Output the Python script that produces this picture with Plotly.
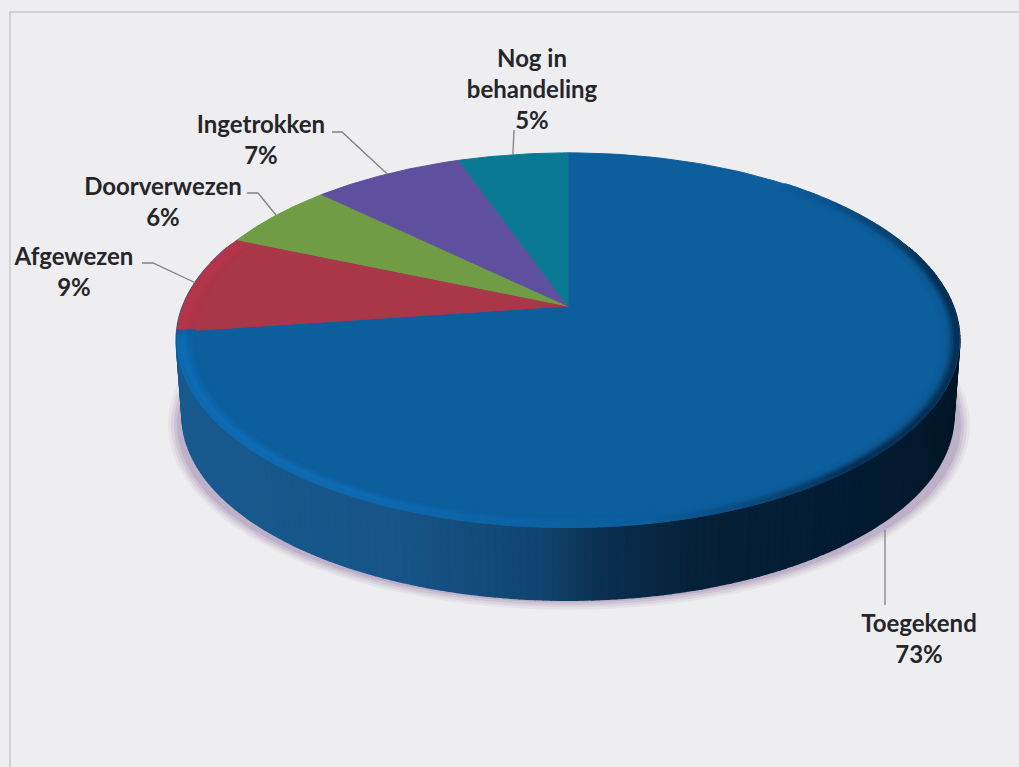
import numpy as np
import plotly.graph_objects as go

# ---- data ----
categories = ["Toegekend", "Afgewezen", "Doorverwezen", "Ingetrokken", "Nog in behandeling"]
shares = [72.8, 8.6, 5.8, 7.4, 5.4]
slice_colors = ["#0d5e9c", "#a93649", "#6f9c45", "#5f509f", "#0a7a94"]
label_lines = [["Toegekend"], ["Afgewezen"], ["Doorverwezen"], ["Ingetrokken"], ["Nog in", "behandeling"]]

# ---- label layout (centre x, y of first line) and leader elbows ----
label_pos = [(919, 626), (74, 259), (163, 189), (261, 127), (532, 61)]
leader_start = [(885, 605), (142, 263), (247, 193), (332, 132), (514, 130)]
leader_elbow = [None, (153, 263), (258, 193), (342, 132), None]
LINE_H = 31

# ---- projection of the disc: apex, perspective, thickness ----
CX, CY = 568.0, 306.0
AX, AY, K = 385.0, 181.0, 0.182
DEPTH, SHRINK = 76.0, 0.985


def rim(theta, s=1.0):
    """Clockwise angle from 12 o'clock (radians) to canvas coordinates on the top face."""
    u, v = np.sin(theta), np.cos(theta)
    d = 1 + K * v
    return CX + s * AX * u / d, CY - s * AY * v / d


def rim_low(theta):
    u, v = np.sin(theta), np.cos(theta)
    d = 1 + K * v
    return CX + SHRINK * AX * u / d, CY - SHRINK * AY * v / d + DEPTH


def hexrgb(h):
    return np.array([int(h[i:i + 2], 16) for i in (1, 3, 5)], float)


def css(c):
    return "rgb(%d,%d,%d)" % tuple(np.clip(np.round(c), 0, 255))


fig = go.Figure()


def poly(xs, ys, color, line=1):
    fig.add_trace(go.Scatter(
        x=list(xs), y=list(ys), mode="lines", fill="toself", fillcolor=color,
        line=dict(color=color if line else "rgba(0,0,0,0)", width=line),
        hoverinfo="skip", showlegend=False))


# frame
fig.add_trace(go.Scatter(x=[10, 10, 1019], y=[767, 12, 12], mode="lines",
                         line=dict(color="#c9c9cb", width=1.5), hoverinfo="skip", showlegend=False))

# soft shadow
t = np.linspace(0, 2 * np.pi, 240)
for grow, alpha in [(11, .12), (8, .18), (5, .26), (2, .36)]:
    poly(569 + (390 + grow) * np.sin(t), 425 + (176 + grow * .8) * np.cos(t),
         f"rgba(165,145,180,{alpha})", line=0)

# side wall, shaded from left to right
shade_x = [176, 400, 540, 600, 700, 900, 960]
shade = np.array([hexrgb(c) for c in ["#185a8e", "#175487", "#114470", "#0a3050", "#052038", "#031a30", "#021626"]])
edges = np.radians(np.linspace(70, 290, 221))
for a, b in zip(edges[:-1], edges[1:]):
    seg = np.array([a, b])
    tx, ty = rim(seg)
    lx, ly = rim_low(seg[::-1])
    col = [np.interp(tx.mean(), shade_x, shade[:, i]) for i in range(3)]
    poly(np.r_[tx, lx], np.r_[ty, ly], css(np.array(col)), line=2)

# slices of the top face
bounds = np.cumsum([0] + shares) / sum(shares) * 2 * np.pi
for i, color in enumerate(slice_colors):
    th = np.linspace(bounds[i], bounds[i + 1], 140)
    x, y = rim(th)
    poly(np.r_[CX, x, CX], np.r_[CY, y, CY], color)

# bevel: lit on the front-left edge, dark on the right edge
base = hexrgb(slice_colors[0])
lit = np.array([16, 112, 188])
dark = np.array([6, 38, 70])
red_base = hexrgb(slice_colors[1])
red_lit = np.array([205, 55, 75])
th = np.radians(np.linspace(40, 292, 900))
deg = np.degrees(th)
lit_w = np.clip((deg - 170) / 40, 0, 1) * np.clip((264 - deg) / 4, 0, 1)
dark_w = np.clip((deg - 40) / 40, 0, 1) * np.clip((170 - deg) / 30, 0, 1)
red_start, red_end = np.degrees(bounds[1]), np.degrees(bounds[2])
red_w = ((deg > red_start + 1) & (deg < red_end - 2)).astype(float)
rings = np.linspace(.958, .994, 9)
for s in rings:
    pos = (s - rings[0]) / (rings[-1] - rings[0])
    li = np.interp(pos, [0, .5, .8, 1], [.05, .5, .85, .6])
    da = np.interp(pos, [0, .45, 1], [0, .08, .8])
    x, y = rim(th, s)
    colors = []
    keep = []
    for j in range(len(th)):
        if red_w[j]:
            colors.append(css(red_base + (red_lit - red_base) * li * .45))
            keep.append(j)
        elif lit_w[j] > 0 or dark_w[j] > 0:
            colors.append(css(base + (lit - base) * li * lit_w[j] + (dark - base) * da * dark_w[j]))
            keep.append(j)
    fig.add_trace(go.Scatter(x=x[keep], y=y[keep], mode="markers",
                             marker=dict(size=4.5, color=colors, line=dict(width=0)),
                             hoverinfo="skip", showlegend=False))

# leader lines end on the slice's own rim
mids = (bounds[:-1] + bounds[1:]) / 2
for i, start in enumerate(leader_start):
    if i == 0:
        ex, ey = start[0], float(rim_low(mids[0] + np.radians(3))[1]) + 6
    else:
        ex, ey = rim(mids[i])
    xs = [start[0]] + ([leader_elbow[i][0]] if leader_elbow[i] else []) + [ex]
    ys = [start[1]] + ([leader_elbow[i][1]] if leader_elbow[i] else []) + [ey]
    fig.add_trace(go.Scatter(x=xs, y=ys, mode="lines", line=dict(color="#808080", width=1.3),
                             hoverinfo="skip", showlegend=False))

# labels, one text row per line so the leading matches
for i, lines in enumerate(label_lines):
    rows = lines + [f"{round(shares[i])}%"]
    fig.add_trace(go.Scatter(
        x=[label_pos[i][0]] * len(rows),
        y=[label_pos[i][1] + LINE_H * r for r in range(len(rows))],
        mode="text", text=rows, textposition="middle center",
        textfont=dict(family="Lato", size=24, color="#26262a", weight="bold"),
        name=categories[i], hoverinfo="skip", showlegend=False))

fig.update_layout(
    width=1019, height=767, margin=dict(l=0, r=0, t=0, b=0),
    paper_bgcolor="#eeeef0", plot_bgcolor="#eeeef0", showlegend=False,
    xaxis=dict(range=[0, 1019], visible=False, fixedrange=True),
    yaxis=dict(range=[767, 0], visible=False, fixedrange=True),
)
fig.write_html("out.html", post_script="document.body.style.margin='0';",
               config={"displayModeBar": False})
